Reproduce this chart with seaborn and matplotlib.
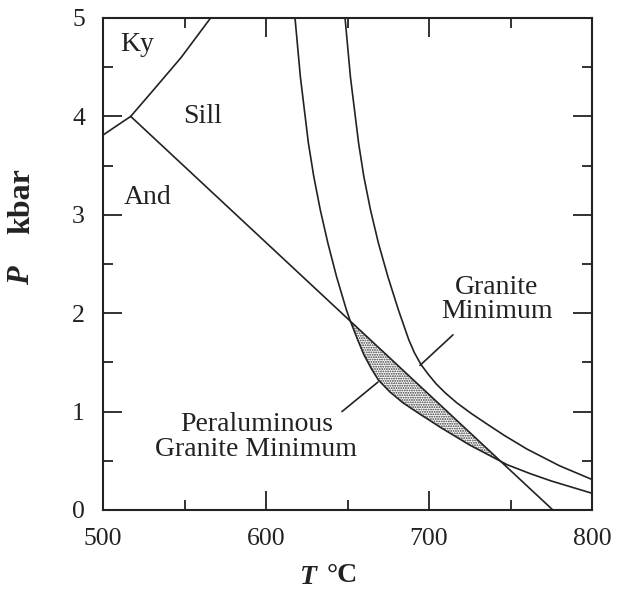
import numpy as np
import pandas as pd
import matplotlib
matplotlib.use("Agg")
import matplotlib.pyplot as plt
import seaborn as sns

# ---- data ----
ky_and_T = [500, 508, 517]
ky_and_P = [3.81, 3.90, 4.00]

ky_sill_T = [517, 530, 548, 566]
ky_sill_P = [4.00, 4.25, 4.60, 5.00]

and_sill_T = [517, 776]
and_sill_P = [4.00, 0.00]

# peraluminous granite minimum (curve A)
pgm_T = [617.8, 621.1, 626.0, 629.3, 633.3, 638.0, 643.3, 649.4, 651.5, 656, 660, 664.5,
         669, 676, 684, 693, 707, 725, 748, 762, 775, 788, 800]
pgm_P = [5.00, 4.40, 3.73, 3.39, 3.05, 2.71, 2.37, 2.03, 1.93, 1.74, 1.58, 1.44,
         1.32, 1.20, 1.09, 0.99, 0.84, 0.66, 0.46, 0.37, 0.295, 0.23, 0.17]

# granite minimum (curve B)
gm_T = [648.5, 651.8, 656.8, 660.0, 664.1, 669.0, 674.8, 681.3, 687.6, 691.0, 695.0, 699.5,
        704.5, 710, 717, 726, 735, 746, 760, 780, 800]
gm_P = [5.00, 4.40, 3.73, 3.39, 3.05, 2.71, 2.37, 2.03, 1.73, 1.60, 1.48, 1.38,
        1.28, 1.19, 1.09, 0.98, 0.88, 0.76, 0.62, 0.45, 0.31]

# shaded lens between the And-Sill line and curve A
lens_T0, lens_T1 = 651.5, 748

x_ticks = [500, 600, 700, 800]
y_ticks = [0, 1, 2, 3, 4, 5]

# ---- style ----
sns.set_theme(style="ticks")
plt.rcParams["font.family"] = ["Liberation Serif", "DejaVu Serif"]
plt.rcParams["hatch.linewidth"] = 0.9

ink = "#222222"
fig = plt.figure(figsize=(6.17, 6.03), dpi=100)
ax = fig.add_axes([103 / 617, 1 - 510 / 603, (592 - 103) / 617, (510 - 18) / 603])

lw = 1.2
for T, P in [(ky_and_T, ky_and_P), (ky_sill_T, ky_sill_P), (and_sill_T, and_sill_P),
             (pgm_T, pgm_P), (gm_T, gm_P)]:
    df = pd.DataFrame({"T": T, "P": P})
    sns.lineplot(data=df, x="T", y="P", ax=ax, color=ink, lw=lw,
                 sort=False, estimator=None)

# lens fill
pgmT = np.array(pgm_T, dtype=float)
pgmP = np.array(pgm_P, dtype=float)
mask = (pgmT >= lens_T0) & (pgmT <= lens_T1)
lT = pgmT[mask]
lP = pgmP[mask]
upper = np.interp(lT, and_sill_T, and_sill_P)
ax.fill_between(lT, lP, upper, facecolor="white", edgecolor="#333333", hatch=".......",
                linewidth=0, zorder=1)

ax.set_xlim(500, 800)
ax.set_ylim(0, 5)
ax.set_xticks(x_ticks)
ax.set_yticks(y_ticks)
ax.set_xticks([550, 650, 750], minor=True)
ax.set_yticks([0.5, 1.5, 2.5, 3.5, 4.5], minor=True)
ax.tick_params(which="both", direction="in", top=True, right=True, color=ink,
               labelsize=18.5, labelcolor=ink)
ax.tick_params(which="major", length=14, width=1.3, pad=13)
ax.tick_params(which="minor", length=7.5, width=1.3)
for s in ax.spines.values():
    s.set_linewidth(1.5)
    s.set_color(ink)
ax.set_xlabel("")
ax.set_ylabel("")

# text labels
tk = dict(fontsize=20, color=ink, ha="center", va="center")
ax.text(521, 4.73, "Ky", **tk)
ax.text(561, 4.0, "Sill", **tk)
ax.text(527.5, 3.18, "And", **tk)
ax.text(741.5, 2.14, "Granite\nMinimum", linespacing=0.95, **tk)
ax.text(594, 0.74, "Peraluminous\nGranite Minimum", linespacing=1.0, **tk)

# leader lines
ax.plot([714.7, 694.5], [1.78, 1.47], color=ink, lw=lw)
ax.plot([646.6, 668.7], [1.00, 1.30], color=ink, lw=lw)

# axis labels
fig.text(308 / 617, 1 - 578 / 603, "T", fontsize=20, fontweight="bold", fontstyle="italic",
         ha="center", va="center", color=ink)
fig.text(342 / 617, 1 - 576 / 603, "°C", fontsize=20, fontweight="bold",
         ha="center", va="center", color=ink)
fig.text(22 / 617, 1 - 276 / 603, "P", fontsize=22, fontweight="bold", fontstyle="italic",
         ha="center", va="center", rotation=90, color=ink)
fig.text(22 / 617, 1 - 201 / 603, "kbar", fontsize=23, fontweight="bold",
         ha="center", va="center", rotation=90, color=ink)

fig.savefig("out.png", dpi=100, facecolor="white")
